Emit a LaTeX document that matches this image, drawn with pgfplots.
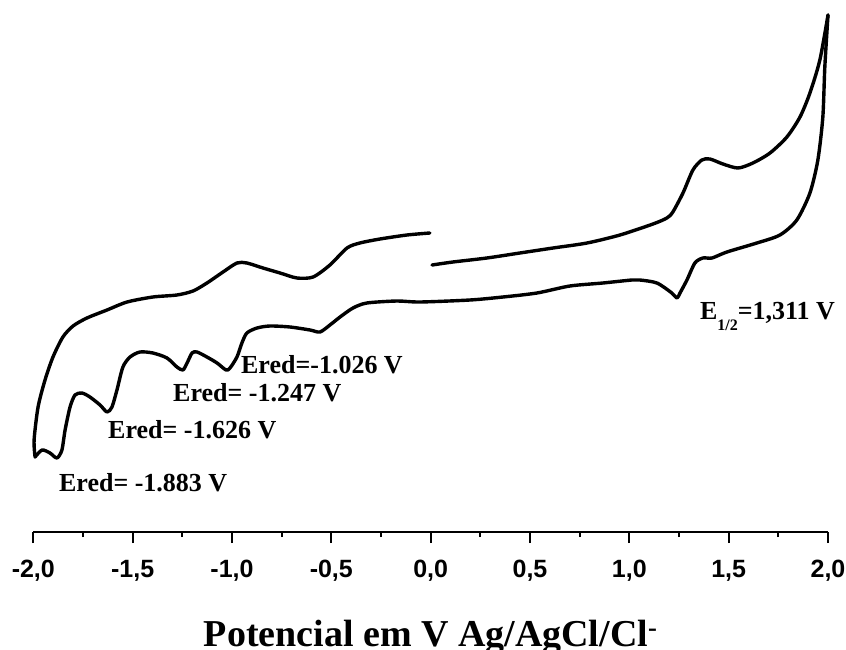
\documentclass[border=0pt]{standalone}
\usepackage{fontspec}
\setmainfont{Liberation Serif}
\newfontfamily\arialfont{Liberation Sans}
\usepackage{pgfplots}
\pgfplotsset{compat=1.18}
\tikzset{
  cv/.style={black, line width=3.4pt, line join=round, line cap=round, smooth, tension=0.45},
  lab/.style={anchor=base west, inner sep=0pt, font=\bfseries\fontsize{26}{30}\selectfont},
}
\begin{document}
\begin{tikzpicture}
\begin{axis}[
  name=ax,
  scale only axis,
  width=794.7pt, height=532pt,
  xmin=-2, xmax=2, ymin=0, ymax=532,
  axis x line=bottom, axis y line=none,
  axis line style={-, line width=2pt},
  xtick={-2,-1.5,-1,-0.5,0,0.5,1,1.5,2},
  minor xtick={-1.75,-1.25,-0.75,-0.25,0.25,0.75,1.25,1.75},
  xtick align=outside,
  major tick length=11pt, minor tick length=5pt,
  every tick/.style={line width=2pt, black},
  xticklabel style={font=\arialfont\bfseries\fontsize{25}{28}\selectfont, yshift=-14pt,
    /pgf/number format/.cd, fixed, fixed zerofill, precision=1, use comma, assume math mode=true},
  xlabel={Potencial em V Ag/AgCl/Cl\textsuperscript{-}},
  xlabel style={font=\bfseries\fontsize{38}{44}\selectfont, at={(axis description cs:0.5,0)}, anchor=base, yshift=-114pt, inner sep=0pt},
  clip=false,
]
\addplot[cv] coordinates {
(0.007,267) (0.112,270) (0.283,274) (0.449,279) (0.616,284) (0.787,289) (0.953,297)
(1.119,308) (1.189,314) (1.219,320) (1.270,339) (1.320,362) (1.365,372) (1.406,373)
(1.471,368) (1.547,364) (1.622,369) (1.708,379) (1.793,395) (1.859,415) (1.909,439)
(1.959,472) (2.000,517)
};
\addplot[cv] coordinates {
(2.000,517)
(1.984,465) (1.974,415) (1.949,372) (1.909,339) (1.843,312) (1.758,297) (1.642,289)
(1.491,280) (1.416,274) (1.370,274) (1.330,269) (1.290,252) (1.255,239) (1.240,234)
(1.214,239) (1.139,249) (1.053,252) (1.013,252) (0.867,249) (0.701,246) (0.535,239)
(0.364,235) (0.198,232) (-0.054,230) (-0.170,231) (-0.321,229) (-0.391,224) (-0.456,215)
(-0.507,207) (-0.557,200) (-0.607,202) (-0.708,205) (-0.809,206) (-0.874,204) (-0.925,199)
(-0.950,189) (-0.975,175) (-1.010,164) (-1.030,162) (-1.075,169) (-1.126,175) (-1.176,180)
(-1.201,179) (-1.226,169) (-1.247,162) (-1.277,165) (-1.327,174) (-1.398,179) (-1.463,180)
(-1.513,175) (-1.549,165) (-1.579,142) (-1.604,125) (-1.629,120) (-1.664,127) (-1.715,135)
(-1.755,139) (-1.790,137) (-1.815,125) (-1.840,102) (-1.856,82) (-1.881,74) (-1.916,79)
(-1.956,82) (-1.991,75)
};
\addplot[cv] coordinates {
(-1.991,75)
(-1.996,92) (-1.976,125) (-1.941,152) (-1.901,175) (-1.851,195) (-1.800,206) (-1.730,214)
(-1.629,222) (-1.528,230) (-1.398,235) (-1.277,237) (-1.196,241) (-1.126,249) (-1.045,260)
(-0.975,269) (-0.925,269) (-0.844,264) (-0.758,259) (-0.673,254) (-0.592,255) (-0.507,267)
(-0.421,284) (-0.356,289) (-0.255,293) (-0.119,297) (-0.004,299)
};
\node[lab] at (axis cs:-1.871,41) {Ered= -1.883 V};
\node[lab] at (axis cs:-1.624,94) {Ered= -1.626 V};
\node[lab] at (axis cs:-1.297,131) {Ered= -1.247 V};
\node[lab] at (axis cs:-0.955,159) {Ered=-1.026 V};
\node[lab] at (axis cs:1.355,213) {E\raisebox{-11pt}{\fontsize{16}{16}\selectfont 1/2}=1,311 V};
\end{axis}
\pgfresetboundingbox
\path[use as bounding box] ([xshift=-33.3pt, yshift=-117pt]ax.south west) rectangle ([xshift=18pt]ax.north east);
\end{tikzpicture}
\end{document}
